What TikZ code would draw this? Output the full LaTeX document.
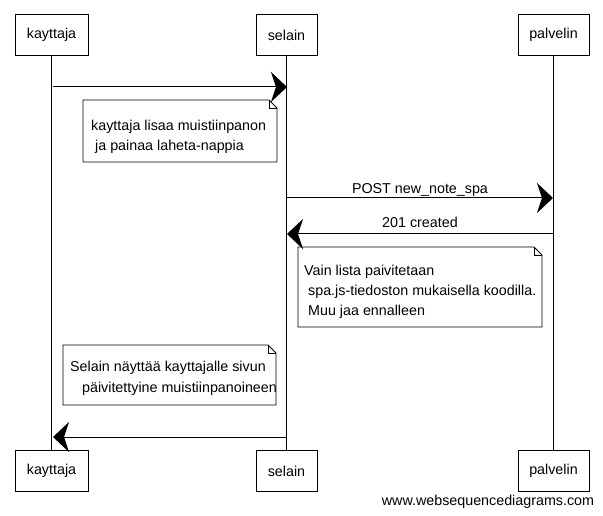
\documentclass[tikz,border=0pt]{standalone}
\usepackage{fontspec}
\setmainfont{Liberation Sans}
\usetikzlibrary{positioning}
\usetikzlibrary{arrows.meta}

\begin{document}
\begin{tikzpicture}[
	x=1pt,y=-1pt,
	font=\fontsize{14.3}{20}\selectfont,
	actor/.style={draw, line width=0.9pt, minimum height=41pt, inner sep=0},
	msg/.style={draw, line width=1pt, -{Stealth[length=16pt,width=30pt,inset=5pt]}},
	lbl/.style={inner sep=0},
	notebox/.style={draw, line width=0.8pt, fill=white},
	notetext/.style={align=left, inner sep=0, anchor=north west}
]
	\useasboundingbox (0,0) rectangle (603,516);

	% actors, top and bottom
	\path
		(51.5,35) node[actor,minimum width=73pt](K){kayttaja}
		(286.5,35) node[actor,minimum width=61pt](S){selain}
		(553.5,35) node[actor,minimum width=71pt](P){palvelin}
		(51.5,471) node[actor,minimum width=73pt](K2){kayttaja}
		(286.5,471) node[actor,minimum width=61pt](S2){selain}
		(553.5,471) node[actor,minimum width=71pt](P2){palvelin}
	;
	\draw[line width=0.9pt]
		(K) -- (K2)
		(S) -- (S2)
		(P) -- (P2)
	;

	% points on the lifelines
	\path
		(53,87) coordinate (k1) (287,87) coordinate (s1)
		(287,198) coordinate (s2) (553,198) coordinate (p2)
		(553,234) coordinate (p3) (287,234) coordinate (s3)
		(287,437) coordinate (s4) (53,437) coordinate (k4)
	;

	% notes
	\draw[notebox] (83,100) -- (269,100) -- (277,108) -- (277,162) -- (83,162) -- cycle;
	\draw[line width=0.6pt] (269,100) -- (269,108) -- (277,108);
	\node[notetext] (N1) at (91,120) {kayttaja lisaa muistiinpanon\\\ ja painaa laheta-nappia};

	\draw[notebox] (298,247) -- (534,247) -- (542,255) -- (542,327) -- (298,327) -- cycle;
	\draw[line width=0.6pt] (534,247) -- (534,255) -- (542,255);
	\node[notetext] (N2) at (304,265) {Vain lista paivitetaan\\\ spa.js-tiedoston mukaisella koodilla.\\\ Muu jaa ennalleen};

	\draw[notebox] (63,345) -- (268,345) -- (276,353) -- (276,405) -- (63,405) -- cycle;
	\draw[line width=0.6pt] (268,345) -- (268,353) -- (276,353);
	\node[notetext,font=\fontsize{14.3}{21}\selectfont] (N3) at (70,361) {Selain näyttää kayttajalle sivun\\\ \ \ päivitettyine muistiinpanoineen};

	% messages
	\draw[msg] (k1) -- (s1);
	\draw[msg] (s2) -- node[lbl,above=1pt]{POST new\_note\_spa} (p2);
	\draw[msg] (p3) -- node[lbl,above=6pt]{201 created} (s3);
	\draw[msg] (s4) -- (k4);

	\node (W) at (488,502) {www.websequencediagrams.com};
\end{tikzpicture}
\end{document}
